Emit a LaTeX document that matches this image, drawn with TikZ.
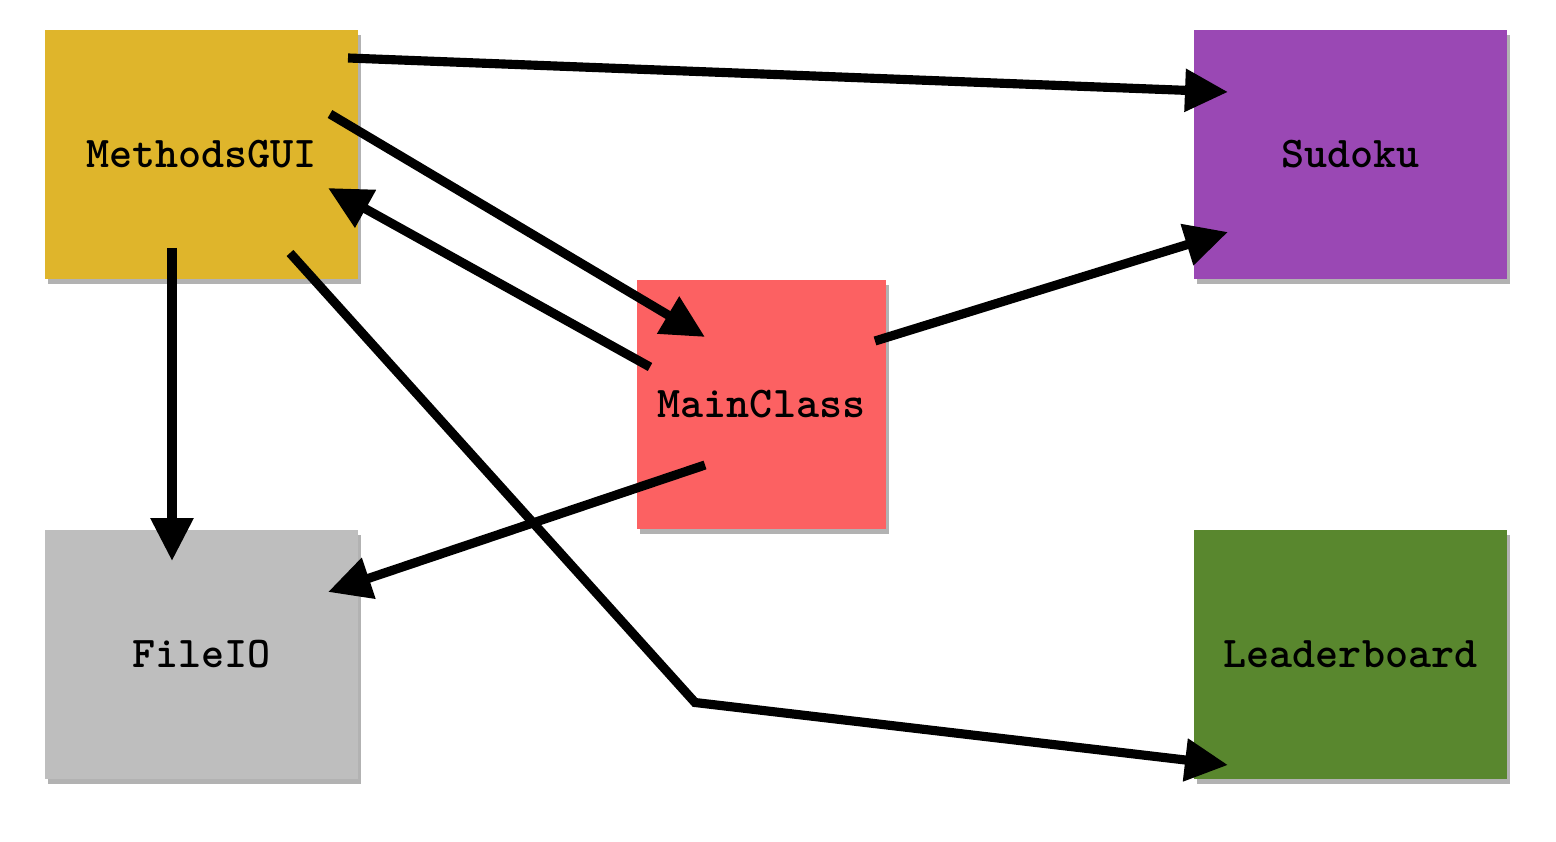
\documentclass[tikz,border=0pt]{standalone}
\usepackage{tikz}
\usetikzlibrary{arrows.meta,calc,shadows}
\definecolor{Gold}{HTML}{DFB52B}
\definecolor{Plum}{HTML}{9A48B4}
\definecolor{Coral}{HTML}{FC6162}
\definecolor{Silver}{HTML}{BEBEBE}
\definecolor{Moss}{HTML}{59872E}

\begin{document}
\begin{tikzpicture}[>=Triangle]
    \tikzset{
      classbox/.style={minimum width=6.26cm,minimum height=4.98cm,inner sep=0pt,
                   font=\fontsize{25}{30}\selectfont\ttfamily\bfseries,
                   drop shadow={shadow xshift=0.06cm,shadow yshift=-0.1cm,opacity=0.3,fill=black}},
      arr/.style={-{Triangle[length=0.86cm,width=0.82cm]},line width=5.2pt,draw=black}
    }
    \useasboundingbox (0,0) rectangle (31.12,-16.84);
    \node[classbox,fill=Gold] (gui) at (4.03,-3.09) {MethodsGUI};
    \node[classbox,fill=Plum] (sudoku) at (27.01,-3.09) {Sudoku};
    \node[classbox,fill=Coral,minimum width=4.98cm] (main) at (15.23,-8.09) {MainClass};
    \node[classbox,fill=Silver] (fileio) at (4.03,-13.09) {FileIO};
    \node[classbox,fill=Moss] (leader) at (27.01,-13.09) {Leaderboard};
    \coordinate (bend) at ($(main.center)+(-1.33,-5.96)$);

    \draw[arr] ($(gui.center)+(2.93,1.93)$) -- ($(sudoku.center)+(-2.45,1.25)$);
    \draw[arr] ($(gui.center)+(2.57,0.81)$) -- ($(main.center)+(-1.13,1.35)$);
    \draw[arr] ($(main.center)+(-2.23,0.75)$) -- ($(gui.center)+(2.53,-0.67)$);
    \draw[arr] ($(gui.center)+(-0.59,-1.87)$) -- ($(fileio.center)+(-0.59,1.87)$);
    \draw[arr] ($(gui.center)+(1.77,-1.97)$) -- (bend) -- ($(leader.center)+(-2.45,-2.21)$);
    \draw[arr] ($(main.center)+(2.27,1.27)$) -- ($(sudoku.center)+(-2.45,-1.55)$);
    \draw[arr] ($(main.center)+(-1.13,-1.21)$) -- ($(fileio.center)+(2.53,1.25)$);
  \end{tikzpicture}
\end{document}
